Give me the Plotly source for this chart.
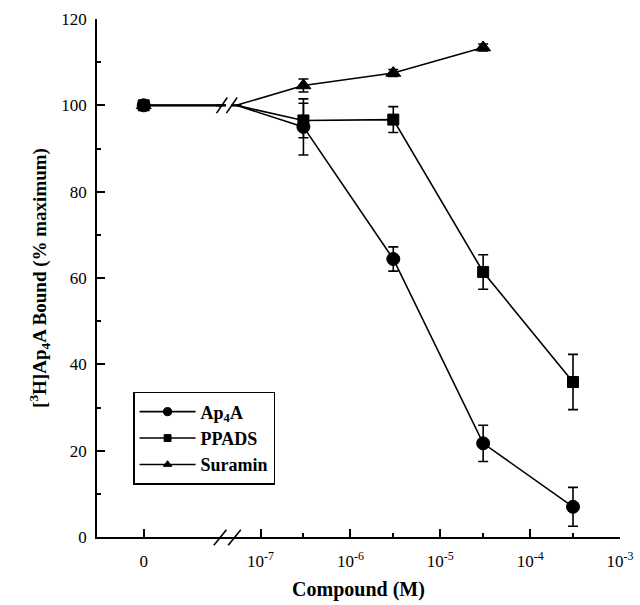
import math
import plotly.graph_objects as go

# ---- data ----
concentrations = [0, 3e-7, 3e-6, 3e-5, 3e-4]
ap4a_mean = [100, 95.0, 64.4, 21.7, 7.0]
ap4a_err = [0, 6.5, 2.8, 4.2, 4.5]
ppads_mean = [100, 96.5, 96.7, 61.4, 35.9]
ppads_err = [0, 4.0, 3.0, 4.0, 6.4]
suramin_mean = [100, 104.6, 107.5, 113.4]
suramin_err = [0, 1.5, 0.8, 0.8]
series_names = ["Ap<sub>4</sub>A", "PPADS", "Suramin"]
x_tickvals_log = [-7, -6, -5, -4, -3]
x_ticktext = ["0", "10<sup>-7</sup>", "10<sup>-6</sup>", "10<sup>-5</sup>", "10<sup>-4</sup>", "10<sup>-3</sup>"]

# axis layout constants (log10 units)
ZERO_POS = -8.30
BREAK_L = -7.44
BREAK_R = -7.27
X_RANGE = [-8.82, -3.0]

def xpos(c):
    return ZERO_POS if c == 0 else math.log10(c)

def build(conc, mean, err):
    xs = [xpos(conc[0]), BREAK_L, None, BREAK_R] + [xpos(c) for c in conc[1:]]
    ys = [mean[0], mean[0], None, mean[0]] + list(mean[1:])
    es = [err[0], 0, 0, 0] + list(err[1:])
    sizes = [1, 0, 0, 0] + [1] * (len(conc) - 1)
    return xs, ys, es, sizes

fig = go.Figure()
specs = [
    (suramin_mean, suramin_err, concentrations[:4], "triangle-up", 13, series_names[2], 3),
    (ppads_mean, ppads_err, concentrations, "square", 11, series_names[1], 2),
    (ap4a_mean, ap4a_err, concentrations, "circle", 13, series_names[0], 1),
]
for mean, err, conc, sym, ms, name, rank in specs:
    xs, ys, es, sizes = build(conc, mean, err)
    fig.add_trace(go.Scatter(
        x=xs, y=ys, mode="lines+markers", name=name, legendrank=rank,
        line=dict(color="black", width=1.6),
        marker=dict(symbol=sym, size=[s * ms for s in sizes], color="black", opacity=1,
                    line=dict(color="black", width=1)),
        error_y=dict(type="data", array=es, visible=True, color="black", thickness=1.6, width=5),
        connectgaps=False,
        cliponaxis=False,
    ))

# axis break marks (on the x axis line and on the shared data line)
for cx in (-7.45, -7.29):
    fig.add_shape(type="line", xref="x", yref="paper",
                  x0=cx - 0.07, x1=cx + 0.07, y0=-0.016, y1=0.014,
                  line=dict(color="black", width=1.6))
for cx in (-7.43, -7.32):
    fig.add_shape(type="line", xref="x", yref="y",
                  x0=cx - 0.06, x1=cx + 0.06, y0=98.2, y1=101.8,
                  line=dict(color="black", width=1.6))

serif = "Liberation Serif, Times New Roman, serif"
fig.update_layout(
    width=640, height=605,
    margin=dict(l=97, r=20, t=19, b=68),
    paper_bgcolor="white", plot_bgcolor="white",
    font=dict(family=serif, color="black", size=18),
    showlegend=True,
    legend=dict(
        x=0.069, y=0.28, xanchor="left", yanchor="top",
        bordercolor="black", borderwidth=1.5, bgcolor="white",
        font=dict(family=serif, size=18, color="black", weight="bold"),
        traceorder="normal", itemwidth=56,
    ),
    xaxis=dict(
        range=X_RANGE, showgrid=False, zeroline=False, automargin=False,
        showline=True, linecolor="black", linewidth=1.6,
        tickmode="array", tickvals=[ZERO_POS] + x_tickvals_log, ticktext=x_ticktext,
        ticks="inside", ticklen=8, tickwidth=1.5, tickcolor="black",
        minor=dict(tickmode="array", tickvals=[math.log10(c) for c in concentrations[1:]],
                   ticks="inside", ticklen=4, tickwidth=1.5, tickcolor="black"),
        tickfont=dict(size=17), ticklabelstandoff=8,
        title=dict(text="<b>Compound (M)</b>", font=dict(size=20), standoff=12),
    ),
    yaxis=dict(
        range=[0, 120], showgrid=False, zeroline=False, automargin=False,
        showline=True, linecolor="black", linewidth=1.6,
        tickmode="linear", tick0=0, dtick=20,
        ticks="inside", ticklen=8, tickwidth=1.5, tickcolor="black",
        minor=dict(dtick=10, ticks="inside", ticklen=4, tickwidth=1.5, tickcolor="black"),
        tickfont=dict(size=17), ticklabelstandoff=5,
        title=dict(text="<b>[<sup>3</sup>H]Ap<sub>4</sub>A Bound (% maximum)</b>",
                   font=dict(size=19), standoff=10),
    ),
)

fig.write_html("out.html")
